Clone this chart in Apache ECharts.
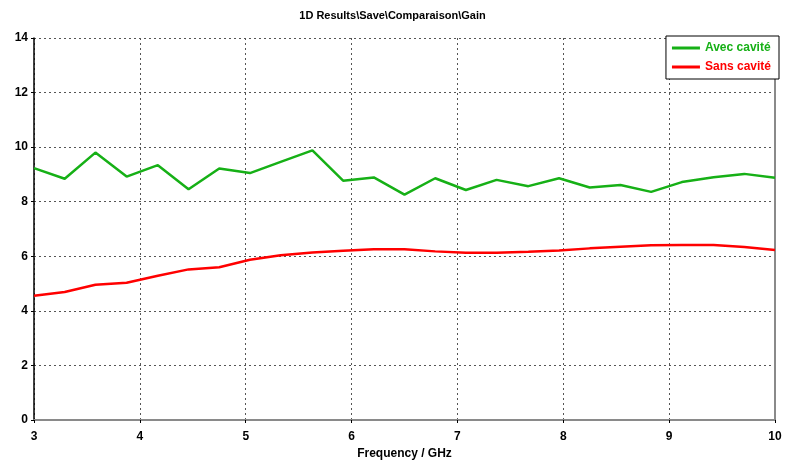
<!DOCTYPE html>
<html>
<head>
<meta charset="utf-8">
<script src="https://cdn.jsdelivr.net/npm/echarts@6/dist/echarts.min.js"></script>
<style>
  html, body { margin: 0; padding: 0; background: #fff; }
  #chart { width: 785px; height: 461px; }
</style>
</head>
<body>
<div id="chart"></div>
<script>
// Gain vs frequency, with and without cavity
const freqGHz = [3.0, 3.29, 3.58, 3.875, 4.17, 4.46, 4.75, 5.04, 5.33, 5.63, 5.92, 6.21, 6.5,
                 6.79, 7.08, 7.37, 7.67, 7.96, 8.25, 8.54, 8.83, 9.12, 9.42, 9.71, 10.0];
const gainAvec = [9.23, 8.84, 9.80, 8.92, 9.34, 8.46, 9.22, 9.05, 9.46, 9.88, 8.77, 8.89, 8.26,
                  8.86, 8.43, 8.80, 8.57, 8.86, 8.52, 8.61, 8.36, 8.72, 8.90, 9.02, 8.88];
const gainSans = [4.55, 4.69, 4.96, 5.03, 5.29, 5.52, 5.60, 5.87, 6.04, 6.14, 6.20, 6.26, 6.26,
                  6.18, 6.13, 6.13, 6.17, 6.21, 6.29, 6.35, 6.40, 6.41, 6.41, 6.34, 6.23];
const seriesNames = ['Avec cavité', 'Sans cavité'];
const seriesColors = ['#16b016', '#ff0000'];

const FONT = 'Liberation Sans';
const pairs = (xs, ys) => xs.map((x, i) => [x, ys[i]]);

const chart = echarts.init(document.getElementById('chart'));
chart.setOption({
  animation: false,
  backgroundColor: '#fff',
  title: {
    text: '1D Results\\Save\\Comparaison\\Gain',
    left: 'center', top: 5,
    textStyle: { fontFamily: FONT, fontSize: 11, fontWeight: 'bold', color: '#000' }
  },
  grid: { left: 34, right: 10, top: 38, bottom: 41, outerBoundsMode: 'none', containLabel: false },
  legend: {
    orient: 'vertical',
    right: 6, top: 36,
    backgroundColor: '#fff',
    borderColor: '#000', borderWidth: 1,
    padding: [6, 8, 6, 6],
    itemGap: 7,
    itemWidth: 28, itemHeight: 3,
    icon: 'rect',
    data: seriesNames.map((n, i) => ({
      name: n,
      textStyle: { color: seriesColors[i] }
    })),
    textStyle: { fontFamily: FONT, fontSize: 12, fontWeight: 'bold' }
  },
  xAxis: [{
    type: 'value', min: 3, max: 10, interval: 1,
    name: 'Frequency / GHz', nameLocation: 'middle', nameGap: 27,
    nameTextStyle: { fontFamily: FONT, fontSize: 12, fontWeight: 'bold', color: '#000' },
    axisLine: { lineStyle: { color: '#000', width: 1.5 } },
    axisTick: { show: true, length: 3, lineStyle: { color: '#000' } },
    axisLabel: { fontFamily: FONT, fontSize: 12, fontWeight: 'bold', color: '#000', margin: 11 },
    splitLine: { show: true, lineStyle: { color: '#555', type: [2, 3], width: 1 } }
  }, {
    type: 'value', min: 3, max: 10, position: 'top',
    axisLine: { show: true, lineStyle: { color: '#8a8a8a', width: 2 } },
    axisTick: { show: false }, axisLabel: { show: false }, splitLine: { show: false }
  }],
  yAxis: [{
    type: 'value', min: 0, max: 14, interval: 2,
    axisLine: { show: true, lineStyle: { color: '#000', width: 1.5 } },
    axisTick: { show: true, length: 3, lineStyle: { color: '#000' } },
    axisLabel: { fontFamily: FONT, fontSize: 12, fontWeight: 'bold', color: '#000', margin: 6 },
    splitLine: { show: true, lineStyle: { color: '#555', type: [2, 3], width: 1 } }
  }, {
    type: 'value', min: 0, max: 14, position: 'right',
    axisLine: { show: true, lineStyle: { color: '#8a8a8a', width: 2 } },
    axisTick: { show: false }, axisLabel: { show: false }, splitLine: { show: false }
  }],
  series: [
    {
      name: seriesNames[0], type: 'line', data: pairs(freqGHz, gainAvec),
      showSymbol: false, color: seriesColors[0],
      lineStyle: { width: 2.5, color: seriesColors[0] }, z: 3
    },
    {
      name: seriesNames[1], type: 'line', data: pairs(freqGHz, gainSans),
      showSymbol: false, color: seriesColors[1],
      lineStyle: { width: 2.5, color: seriesColors[1] }, z: 3
    }
  ]
});
</script>
</body>
</html>
